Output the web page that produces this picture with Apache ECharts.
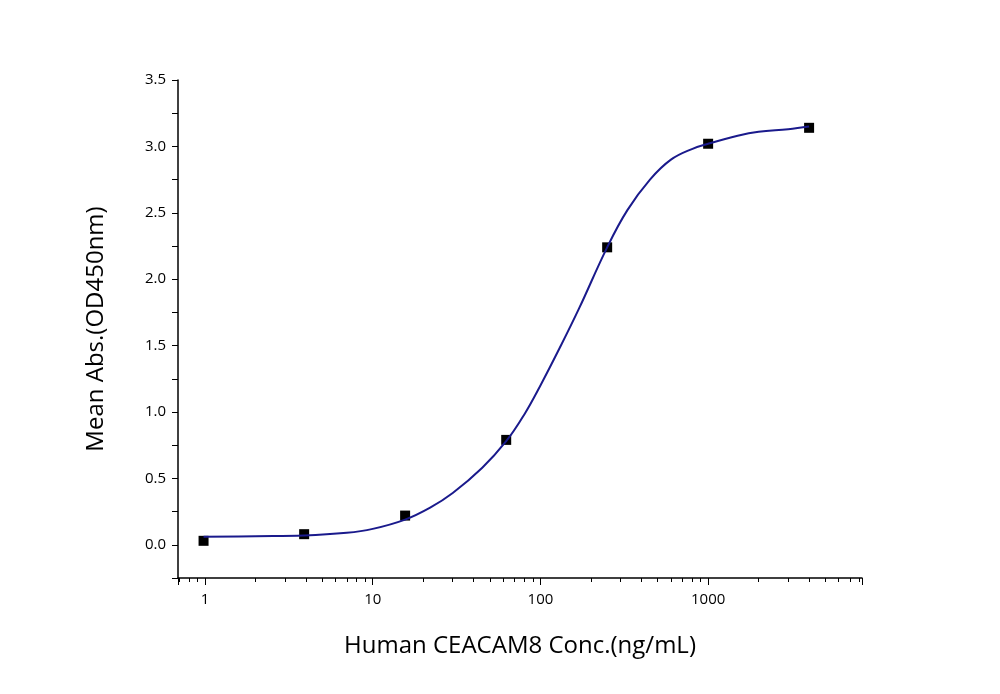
<!DOCTYPE html>
<html><head><meta charset="utf-8">
<script src="https://cdn.jsdelivr.net/npm/echarts@6/dist/echarts.min.js"></script>
<style>html,body{margin:0;background:#fff}#c{width:1000px;height:694px}</style>
</head><body><div id="c"></div>
<script>
// measured points (ng/mL, OD450)
const pointX = [0.98, 3.9, 15.6, 62.5, 250, 1000, 4000];
const pointY = [0.03, 0.08, 0.22, 0.79, 2.24, 3.02, 3.14];
// fitted curve
const curveX = [0.98, 2, 3.9, 7, 10, 15.6, 22, 30, 45, 62.5, 80, 100, 130, 170, 250, 330, 450, 600, 800, 1000, 1500, 2000, 3000, 4000];
const curveY = [0.06, 0.065, 0.07, 0.09, 0.12, 0.19, 0.28, 0.39, 0.58, 0.78, 0.98, 1.2, 1.48, 1.78, 2.24, 2.52, 2.75, 2.9, 2.98, 3.02, 3.08, 3.11, 3.13, 3.15];

const font = 'Open Sans';
const chart = echarts.init(document.getElementById('c'));
chart.setOption({
  animation: false,
  textStyle: { fontFamily: font },
  grid: { left: 178, right: 138, top: 80, bottom: 116 },
  xAxis: {
    type: 'log', logBase: 10, min: 0.69, max: 8270,
    name: 'Human CEACAM8 Conc.(ng/mL)', nameLocation: 'middle', nameGap: 56,
    nameTextStyle: { fontSize: 24, color: '#000', fontFamily: font },
    axisLine: { onZero: false, lineStyle: { color: '#000', width: 1.5 } },
    axisTick: { inside: false, length: 7, lineStyle: { color: '#000' } },
    minorTick: { show: true, splitNumber: 9, length: 4, lineStyle: { color: '#000' } },
    axisLabel: { color: '#000', fontSize: 15, margin: 14, showMinLabel: false, showMaxLabel: false,
      formatter: v => String(Math.round(v)) },
    splitLine: { show: false }
  },
  yAxis: {
    type: 'value', min: -0.25, max: 3.5, interval: 0.25,
    name: 'Mean Abs.(OD450nm)', nameLocation: 'middle', nameGap: 70,
    nameTextStyle: { fontSize: 24, color: '#000', fontFamily: font },
    axisLine: { show: true, lineStyle: { color: '#000', width: 1.5 } },
    axisTick: { length: 6, lineStyle: { color: '#000' } },
    axisLabel: { color: '#000', fontSize: 15, margin: 12,
      formatter: v => (v >= 0 && Math.abs(v * 2 - Math.round(v * 2)) < 1e-6) ? v.toFixed(1) : '' },
    splitLine: { show: false }
  },
  series: [
    { type: 'line', smooth: 0.4, symbol: 'none', data: curveX.map((x, i) => [x, curveY[i]]),
      lineStyle: { color: '#1a1a8c', width: 2 } },
    { type: 'scatter', symbol: 'rect', symbolSize: 10, data: pointX.map((x, i) => [x, pointY[i]]),
      itemStyle: { color: '#000', opacity: 1 } }
  ]
});
</script></body></html>
